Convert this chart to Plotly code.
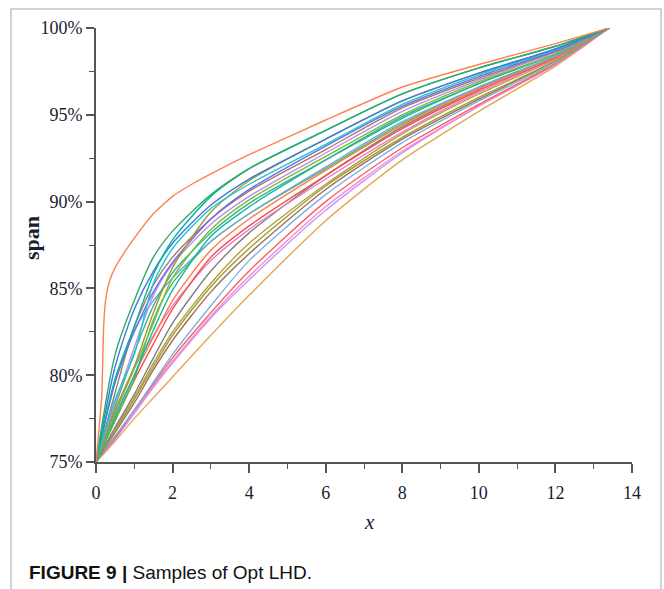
import plotly.graph_objects as go

# ---------------- data ----------------
x_grid = [0, 0.5, 1, 1.5, 2, 3, 4, 6, 8, 10, 12, 13.4]

top_x = [0, 0.15, 0.2, 0.25, 0.35, 0.5, 0.75, 1, 1.5, 2, 2.5, 3, 4, 6, 8, 10, 12, 13.4]
top_y = [75, 78.8, 82.8, 84.3, 85.4, 86.2, 87.1, 87.9, 89.3, 90.3, 91.0, 91.6, 92.7, 94.7, 96.6, 97.9, 99.1, 100]

s02 = [75, 81.2, 84.3, 86.8, 88.3, 90.4, 91.9, 94.1, 96.2, 97.7, 98.95, 100]
s03 = [75, 79.8, 82.8, 85.8, 87.8, 90.3, 91.9, 94.1, 96.2, 97.7, 98.95, 100]
s04 = [75, 80.5, 83.8, 86.0, 87.6, 89.8, 91.3, 93.6, 95.8, 97.4, 98.8, 100]
s05 = [75, 78.6, 81.2, 85.3, 87.3, 89.6, 91.0, 93.3, 95.6, 97.3, 98.75, 100]
s06 = [75, 78.0, 80.5, 83.6, 86.2, 89.4, 91.2, 93.6, 95.8, 97.4, 98.8, 100]
s07 = [75, 79.6, 82.5, 84.8, 86.5, 89.0, 90.7, 93.2, 95.5, 97.2, 98.7, 100]
s08 = [75, 79.0, 82.8, 85.2, 86.8, 89.0, 90.6, 93.0, 95.4, 97.1, 98.65, 100]
s09 = [75, 78.4, 81.6, 84.6, 86.4, 88.7, 90.3, 92.8, 95.2, 97.0, 98.6, 100]
s10 = [75, 77.8, 80.4, 83.0, 85.6, 88.4, 90.1, 92.6, 95.0, 96.9, 98.5, 100]
s11 = [75, 77.6, 80.0, 82.6, 84.9, 88.0, 89.7, 92.4, 94.9, 96.8, 98.5, 100]
s12 = [75, 79.6, 82.6, 84.3, 85.6, 87.7, 89.3, 92.0, 94.6, 96.6, 98.4, 100]
s13 = [75, 77.4, 79.8, 83.2, 85.3, 87.7, 89.3, 91.9, 94.5, 96.6, 98.4, 100]
s14 = [75, 77.6, 80.0, 82.2, 84.3, 87.2, 89.0, 91.8, 94.4, 96.5, 98.35, 100]
s15 = [75, 77.4, 79.7, 81.8, 83.8, 86.8, 88.6, 91.5, 94.2, 96.4, 98.3, 100]
s16 = [75, 77.8, 80.4, 82.3, 84.0, 86.6, 88.4, 91.3, 94.0, 96.3, 98.25, 100]
s17 = [75, 77.0, 78.9, 81.0, 83.0, 86.0, 88.2, 91.5, 94.3, 96.5, 98.4, 100]
s18 = [75, 76.9, 78.7, 80.7, 82.5, 85.3, 87.6, 91.0, 93.9, 96.2, 98.2, 100]
s19 = [75, 76.8, 78.6, 80.5, 82.3, 85.1, 87.3, 90.9, 93.7, 96.0, 98.1, 100]
s20 = [75, 76.7, 78.4, 80.3, 82.0, 84.8, 87.0, 90.7, 93.6, 95.9, 98.1, 100]
s21 = [75, 76.5, 78.0, 79.6, 81.2, 84.0, 86.6, 90.4, 93.4, 95.8, 98.0, 100]
s22 = [75, 76.4, 78.0, 79.5, 81.0, 83.6, 86.0, 90.0, 93.1, 95.6, 97.95, 100]
s23 = [75, 76.4, 77.9, 79.4, 80.8, 83.4, 85.7, 89.7, 92.9, 95.5, 97.9, 100]
s24 = [75, 76.3, 77.8, 79.3, 80.7, 83.3, 85.5, 89.5, 92.8, 95.5, 97.9, 100]
s25 = [75, 76.2, 77.5, 78.7, 79.9, 82.3, 84.6, 88.9, 92.4, 95.2, 97.8, 100]
s26 = [75, 78.2, 81.3, 84.0, 85.9, 88.2, 89.9, 92.4, 94.8, 96.8, 98.5, 100]

series_list = [s25, s24, s23, s22, s21, s20, s19, s18, s17, s16, s15, s14,
               s13, s12, s11, s26, s10, s09, s08, s07, s06, s05, s04, s03, s02]
series_colors = ["#E2A852", "#C896F0", "#F08CD0", "#FF5C5C", "#78B2E4", "#A06E5A",
                 "#A09A30", "#B0A040", "#7F7F7F", "#E880C8", "#F55050", "#FF7A45",
                 "#58B858", "#6EA8E4", "#10B8A8", "#40B080", "#74BE3A", "#BE8CF0",
                 "#A47A64", "#6A6FE6", "#9E9A2E", "#1CC6D6", "#3A7BE0", "#00B4A0",
                 "#34A86A"]
top_color = "#FF8050"

x_ticks = [0, 2, 4, 6, 8, 10, 12, 14]
y_ticks = [75, 80, 85, 90, 95, 100]
y_tick_text = ["75%", "80%", "85%", "90%", "95%", "100%"]

# ---------------- figure ----------------
fig = go.Figure()
for ys, col in zip(series_list, series_colors):
    fig.add_trace(go.Scatter(x=x_grid, y=ys, mode="lines",
                             line=dict(color=col, width=1.4, shape="spline", smoothing=0.7),
                             showlegend=False, hoverinfo="skip"))
fig.add_trace(go.Scatter(x=top_x, y=top_y, mode="lines",
                         line=dict(color=top_color, width=1.4, shape="spline", smoothing=0.5),
                         showlegend=False, hoverinfo="skip"))

L, R, T, B = 96, 32, 28, 127
W, H = 664, 589
pw, ph = W - L - R, H - T - B

def px(xp):
    return (xp - L) / pw

def py(yp):
    return (H - B - yp) / ph

axis_col = "#555555"
tick_font = dict(family="Liberation Serif, Times New Roman, serif", size=18, color="#1c1c30")

fig.update_xaxes(range=[0, 14], tickmode="array", tickvals=x_ticks,
                 showline=True, linecolor=axis_col, linewidth=1.6,
                 ticks="outside", ticklen=9, tickwidth=1.6, tickcolor=axis_col,
                 ticklabelstandoff=5,
                 minor=dict(dtick=1, ticks="outside", ticklen=5, tickwidth=1.4, tickcolor=axis_col),
                 showgrid=False, zeroline=False, tickfont=tick_font)
fig.update_yaxes(range=[75, 100], tickmode="array", tickvals=y_ticks, ticktext=y_tick_text,
                 showline=True, linecolor=axis_col, linewidth=1.6,
                 ticks="outside", ticklen=8, tickwidth=1.6, tickcolor=axis_col,
                 minor=dict(dtick=2.5, ticks="outside", ticklen=5, tickwidth=1.4, tickcolor=axis_col),
                 showgrid=False, zeroline=False, tickfont=tick_font)

fig.update_layout(
    width=W, height=H,
    margin=dict(l=L, r=R, t=T, b=B, pad=0),
    paper_bgcolor="white", plot_bgcolor="white",
    shapes=[dict(type="rect", xref="paper", yref="paper",
                 x0=px(11), x1=px(661), y0=py(620), y1=py(9),
                 line=dict(color="#c4c4c4", width=1.5), layer="below")],
    annotations=[
        dict(text="<b>span</b>", xref="paper", yref="paper", x=px(31), y=py(238),
             textangle=-90, showarrow=False, xanchor="center", yanchor="middle",
             font=dict(family="Liberation Serif, Times New Roman, serif", size=22, color="#1c1c30")),
        dict(text="<i>x</i>", xref="paper", yref="paper", x=px(369), y=py(522),
             showarrow=False, xanchor="center", yanchor="middle",
             font=dict(family="Liberation Serif, Times New Roman, serif", size=21, color="#1c1c30")),
        dict(text="<b>FIGURE 9 |</b> Samples of Opt LHD.", xref="paper", yref="paper",
             x=px(27), y=py(572), showarrow=False, xanchor="left", yanchor="middle",
             font=dict(family="Liberation Sans Narrow, Liberation Sans, Arial, sans-serif",
                       size=19, color="#111111")),
    ],
)

fig.write_html("out.html")
